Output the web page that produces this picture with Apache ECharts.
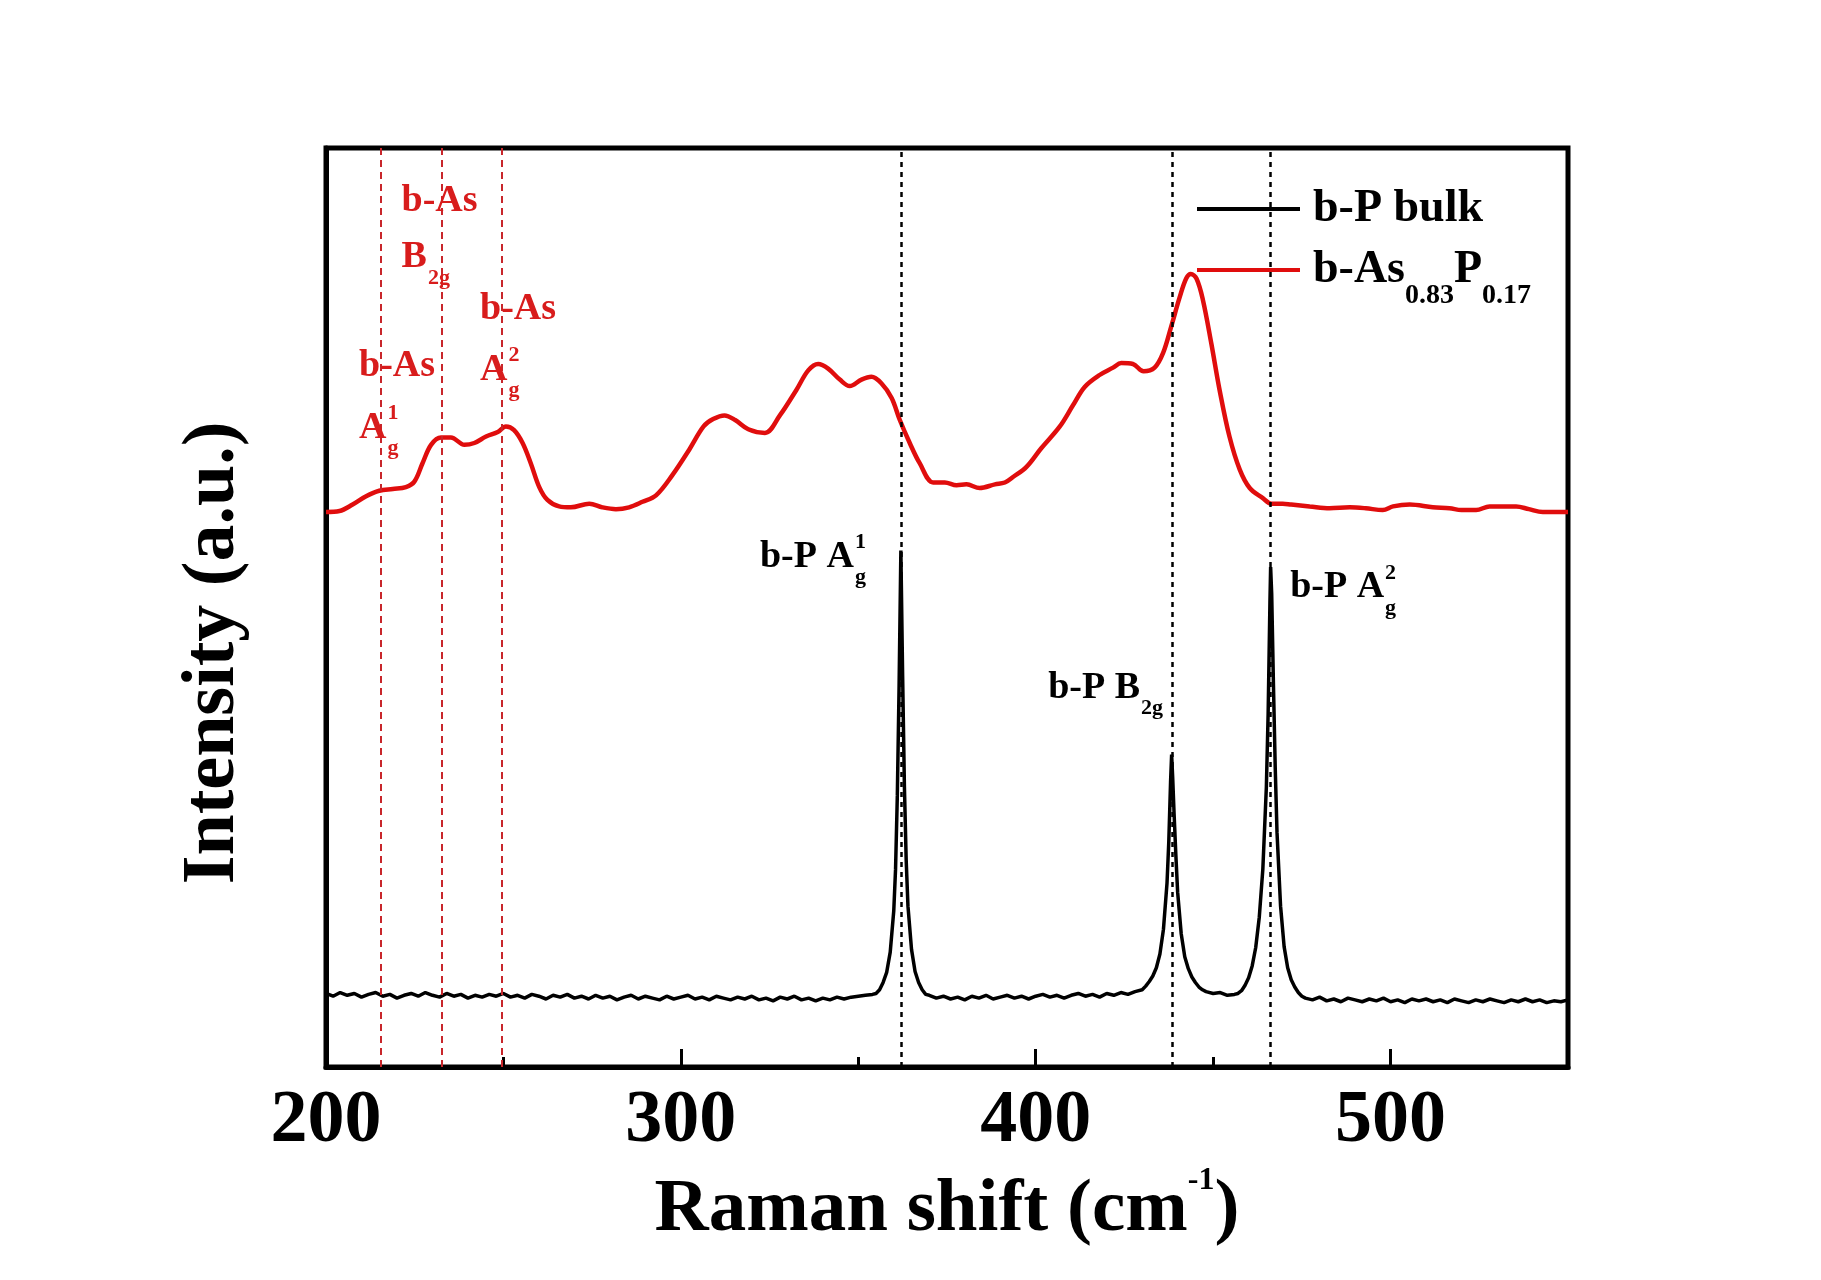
<!DOCTYPE html>
<html><head><meta charset="utf-8">
<script src="https://cdn.jsdelivr.net/npm/echarts@6/dist/echarts.min.js"></script>
<style>html,body{margin:0;padding:0;background:#fff}#c{width:1821px;height:1280px}</style>
</head><body><div id="c"></div>
<script>
// ---------- data ----------
const bulkShift = [
  200,202,204,206,208,210,212,214,216,218,220,222,224,226,228,230,232,234,236,238,
  240,242,244,246,248,250,252,254,256,258,260,262,264,266,268,270,272,274,276,278,
  280,282,284,286,288,290,292,294,296,298,300,302,304,306,308,310,312,314,316,318,
  320,322,324,326,328,330,332,334,336,338,340,342,344,346,348,350,352,354,
  355,356,357,358,359,360,360.5,361,361.5,362,362.5,363,363.5,364,365,366,367,368,369,
  370,372,374,376,378,380,382,384,386,388,390,392,394,396,398,400,402,404,406,408,
  410,412,414,416,418,420,422,424,426,428,430,
  431,432,433,434,435,436,437,437.5,438,438.3,438.6,439,439.5,440,441,442,443,444,445,446,447,
  448,450,452,454,456,
  457,458,459,460,461,462,463,464,465,465.5,466,466.2,466.5,467,467.5,468,469,470,471,472,473,474,475,
  476,478,480,482,484,486,488,490,492,494,496,498,500,502,504,506,508,510,512,514,
  516,518,520,522,524,526,528,530,532,534,536,538,540,542,544,546,548,550
];
const bulkIntensity = [
  8.0,7.7,8.1,7.8,8.0,7.6,7.9,8.1,7.7,7.9,7.5,7.8,8.0,7.7,8.1,7.8,7.6,8.0,7.7,7.9,
  7.5,7.8,7.6,7.9,7.7,8.0,7.6,7.8,7.5,7.9,7.7,7.4,7.8,7.6,7.9,7.5,7.7,7.4,7.8,7.5,
  7.7,7.3,7.6,7.8,7.4,7.7,7.5,7.3,7.7,7.4,7.6,7.8,7.4,7.6,7.3,7.7,7.5,7.3,7.6,7.4,
  7.7,7.3,7.5,7.2,7.6,7.4,7.7,7.3,7.5,7.2,7.5,7.3,7.6,7.4,7.6,7.7,7.8,7.9,
  8.0,8.4,9.2,10.3,12.5,17.0,21.5,29.5,41.5,56.2,42.5,30.5,22.5,17.5,12.8,10.4,9.2,8.4,7.9,
  7.8,7.5,7.7,7.4,7.6,7.3,7.7,7.5,7.8,7.4,7.6,7.8,7.5,7.7,7.4,7.7,7.9,7.6,7.8,7.5,
  7.8,8.0,7.7,7.9,7.6,8.0,7.8,8.1,7.9,8.2,8.4,
  8.8,9.3,9.9,10.8,12.3,15.0,20.0,24.5,31.0,34.0,31.5,27.5,23.0,19.0,14.5,12.0,10.7,9.8,9.2,8.7,8.4,
  8.2,8.0,8.1,7.8,7.9,
  8.0,8.3,8.9,9.7,11.0,13.0,16.3,21.5,30.5,38.5,50.5,54.4,51.5,41.5,32.5,25.5,17.5,13.1,10.8,9.5,8.7,8.1,7.7,
  7.5,7.3,7.6,7.2,7.4,7.1,7.5,7.3,7.1,7.4,7.2,7.5,7.1,7.3,7.0,7.4,7.2,7.4,7.1,7.3,
  7.0,7.4,7.2,7.0,7.3,7.1,7.4,7.2,7.0,7.3,7.1,7.4,7.1,7.3,7.0,7.2,7.1,7.3
];
const alloyShift = [
  200,203.8,207.5,211.3,215.0,218.8,222.5,224.9,227.2,229.6,
  232.4,235.2,239.0,241.8,245.1,248.4,250.7,253.0,255.4,257.7,
  260.1,262.4,265.7,269.0,274.2,277.9,281.7,285.4,289.2,293.0,
  297.6,302.4,306.4,309.1,312.3,315.3,319.0,323.7,327.9,332.6,
  335.9,338.7,341.5,344.8,347.6,350.9,353.7,356.5,359.4,361.7,
  364.5,367.3,371.1,374.4,377.7,380.5,384.2,388.5,391.3,393.6,
  397.4,401.5,406.8,410.5,413.8,418.0,421.8,424.1,427.4,430.4,
  433.5,435.9,438.2,440.6,442.4,443.7,445.3,447.1,449.5,451.8,
  454.6,457.5,460.3,464.0,466.4,469.6,472.0,477.2,482.8,488.5,
  493.0,497.8,500.7,505.4,511.9,516.6,520.0,524.1,527.9,531.0,
  535.4,539.0,542.9,546.0,550
];
const alloyIntensity = [
  60.4,60.5,61.2,62.1,62.7,62.9,63.1,63.7,65.7,67.7,
  68.5,68.5,67.7,67.9,68.6,69.1,69.7,69.3,67.9,65.7,
  63.1,61.7,61.0,60.9,61.3,60.9,60.7,60.9,61.5,62.2,
  64.4,67.2,69.7,70.5,70.9,70.4,69.4,69.0,70.9,73.7,
  75.8,76.5,76.0,74.8,74.1,74.8,75.1,74.4,72.8,70.4,
  67.9,65.7,63.6,63.6,63.3,63.4,63.0,63.4,63.6,64.2,
  65.3,67.3,69.7,72.0,74.0,75.3,76.1,76.6,76.5,75.7,
  76.1,77.7,80.6,83.8,85.8,86.3,85.8,83.5,78.7,73.7,
  68.6,65.0,63.0,61.9,61.3,61.3,61.2,61.0,60.8,60.9,
  60.8,60.6,61.0,61.2,60.9,60.8,60.6,60.6,61.0,61.0,
  61.0,60.7,60.4,60.4,60.4
];
const bulkModes = [362.2, 438.6, 466.2];
const alloyModes = [215.4, 232.6, 249.4];
const seriesNames = ['b-P bulk', 'b-As0.83P0.17'];
// peak labels: anchor (left edge, baseline) in data coords
const labelShift = [221.3, 221.3, 243.4, 243.4, 209.3, 209.3, 322.3, 403.5, 471.7];
const labelIntensity = [92.9, 86.7, 81.1, 74.5, 74.9, 68.2, 54.1, 39.9, 50.8];
const labelMain = ['b-As', 'B', 'b-As', 'A', 'b-As', 'A', 'b-P A', 'b-P B', 'b-P A'];
const labelSup = ['', '', '', '2', '', '1', '1', '', '2'];
const labelSub = ['', '2g', '', 'g', '', 'g', 'g', '2g', 'g'];

// ---------- chart ----------
const FONT = '"Liberation Serif", "Times New Roman", serif';
const RED = '#e00d0d';
const RED_TEXT = '#d81c1c';
const RED_DASH = '#c8262b';
const chart = echarts.init(document.getElementById('c'), null, {renderer: 'canvas'});

const zip = (xs, ys) => xs.map((x, i) => [x, ys[i]]);

chart.setOption({
  animation: false,
  backgroundColor: '#fff',
  grid: {left: 326, top: 148, right: 253, bottom: 213, show: true, borderColor: '#000', borderWidth: 5, outerBoundsMode: 'none', containLabel: false},
  xAxis: [{
    type: 'value', min: 200, max: 550, interval: 100, position: 'bottom',
    axisLine: {show: true, lineStyle: {color: '#000', width: 5}},
    axisTick: {show: true, inside: true, length: 18, lineStyle: {color: '#000', width: 3}},
    minorTick: {show: false},
    splitLine: {show: false},
    axisLabel: {show: true, showMaxLabel: false, margin: 18, color: '#000', fontFamily: FONT, fontWeight: 'bold', fontSize: 74},
    name: '{m|Raman shift (cm}{s|-1}{m|)}',
    nameLocation: 'middle', nameGap: 98,
    nameTextStyle: {
      color: '#000', fontFamily: FONT, fontWeight: 'bold', fontSize: 75,
      rich: {
        m: {fontFamily: FONT, fontWeight: 'bold', fontSize: 75, color: '#000', verticalAlign: 'middle'},
        s: {fontFamily: FONT, fontWeight: 'bold', fontSize: 32, color: '#000', verticalAlign: 'middle', padding: [0, 0, 60, 0]}
      }
    }
  }, {
    type: 'value', min: 200, max: 550, interval: 50, position: 'bottom',
    axisLine: {show: false},
    axisTick: {show: true, inside: true, length: 10, lineStyle: {color: '#000', width: 3}},
    axisLabel: {show: false}, splitLine: {show: false}
  }],
  yAxis: {
    type: 'value', min: 0, max: 100,
    axisLine: {show: true, lineStyle: {color: '#000', width: 5}},
    axisTick: {show: false}, axisLabel: {show: false}, splitLine: {show: false}
  },
  legend: [{
    data: [seriesNames[0]], left: 1197, top: 186, padding: 0,
    icon: 'rect', itemWidth: 103, itemHeight: 4, selectedMode: false,
    textStyle: {color: '#000', fontFamily: FONT, fontWeight: 'bold', fontSize: 46, padding: [0, 0, 0, 8]}
  }, {
    data: [seriesNames[1]], left: 1197, top: 247, padding: 0,
    icon: 'rect', itemWidth: 103, itemHeight: 4, selectedMode: false,
    formatter: () => '{m|b-As}{s|0.83}{m|P}{s|0.17}',
    textStyle: {
      color: '#000', fontFamily: FONT, fontWeight: 'bold', fontSize: 46, padding: [0, 0, 0, 8],
      rich: {
        m: {fontFamily: FONT, fontWeight: 'bold', fontSize: 46, color: '#000', verticalAlign: 'middle'},
        s: {fontFamily: FONT, fontWeight: 'bold', fontSize: 28, color: '#000', verticalAlign: 'middle', padding: [52, 0, 0, 0]}
      }
    }
  }],
  series: [{
    name: seriesNames[0], type: 'line', xAxisIndex: 0, yAxisIndex: 0,
    data: zip(bulkShift, bulkIntensity), symbol: 'none', showSymbol: false, smooth: false,
    lineStyle: {color: '#000', width: 3.5}, itemStyle: {color: '#000'}, z: 3,
    markLine: {
      silent: true, symbol: ['none', 'none'], label: {show: false},
      lineStyle: {color: '#000', width: 2.5, type: [5, 5]},
      data: bulkModes.map(v => ({xAxis: v}))
    }
  }, {
    name: seriesNames[1], type: 'line', xAxisIndex: 0, yAxisIndex: 0,
    data: zip(alloyShift, alloyIntensity), symbol: 'none', showSymbol: false, smooth: 0.35,
    lineStyle: {color: RED, width: 4.5}, itemStyle: {color: RED}, z: 3,
    markLine: {
      silent: true, symbol: ['none', 'none'], label: {show: false},
      lineStyle: {color: RED_DASH, width: 2, type: [7, 5]},
      data: alloyModes.map(v => ({xAxis: v}))
    }
  }]
});

// ---------- peak labels and y title ----------
const ctx = document.createElement('canvas').getContext('2d');
function textWidth(t, size) { ctx.font = 'bold ' + size + 'px ' + FONT; return ctx.measureText(t).width; }
const MID = 0.33;
function textEl(text, x, y, size, color, extra) {
  return Object.assign({
    type: 'text', x: x, y: y, silent: true, z: 10,
    style: {text: text, fontFamily: FONT, fontWeight: 'bold', fontSize: size, fill: color,
            align: 'left', verticalAlign: 'middle', textAlign: 'left', textVerticalAlign: 'middle'}
  }, extra || {});
}
const graphics = [];
labelMain.forEach((main, i) => {
  const p = chart.convertToPixel({xAxisIndex: 0, yAxisIndex: 0}, [labelShift[i], labelIntensity[i]]);
  const red = i < 6;
  const color = red ? RED_TEXT : '#000';
  const F = 38, f = 22;
  graphics.push(textEl(main, p[0], p[1] - MID * F, F, color));
  const w = textWidth(main, F) + 1;
  if (labelSup[i]) graphics.push(textEl(labelSup[i], p[0] + w, p[1] - 20 - MID * f, f, color));
  if (labelSub[i]) graphics.push(textEl(labelSub[i], p[0] + w, p[1] + 15 - MID * f, f, color));
});
graphics.push({
  type: 'text', x: 214, y: 653, rotation: Math.PI / 2, silent: true,
  style: {text: 'Intensity (a.u.)', fontFamily: FONT, fontWeight: 'bold', fontSize: 74, fill: '#000',
          align: 'center', verticalAlign: 'middle', textAlign: 'center', textVerticalAlign: 'middle'}
});
chart.setOption({graphic: graphics});
</script>
</body></html>
